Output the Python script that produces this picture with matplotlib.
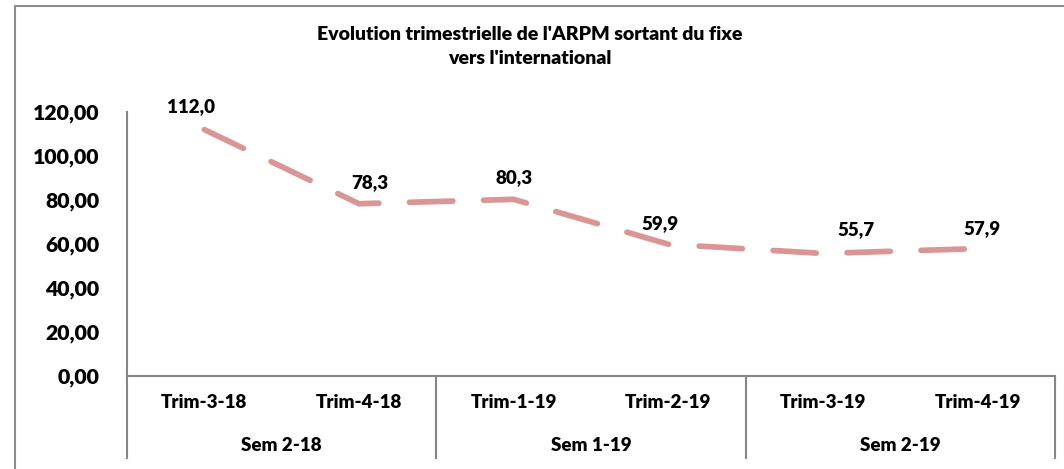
import matplotlib.pyplot as plt
from matplotlib.patches import Rectangle

# Data
trimestres = ['Trim-3-18', 'Trim-4-18', 'Trim-1-19', 'Trim-2-19', 'Trim-3-19', 'Trim-4-19']
semestres = ['Sem 2-18', 'Sem 1-19', 'Sem 2-19']
arpm = [112.0, 78.3, 80.3, 59.9, 55.7, 57.9]
yticks = [0, 20, 40, 60, 80, 100, 120]

# label nudges (pixels), labels were moved by hand in the original
label_dx = [-13, 11, 0, -8, 33, 4]
label_dy = [23, 21, 22, 21, 24, 20]

plt.rcParams['font.family'] = ['Lato', 'DejaVu Sans']
wt = 'heavy'
grey = '#868686'
line_col = '#D99694'

W, H = 1064, 469
fig = plt.figure(figsize=(W / 100, H / 100), dpi=100)
ax = fig.add_axes([127 / W, 1 - 376 / H, 928 / W, 264 / H])

# outer chart border (cut at right and bottom)
fig.patches.append(Rectangle((15 / W, -0.1), 1.2, 1.1 - 6 / H, transform=fig.transFigure,
                             fill=False, edgecolor='#8c8c8c', lw=1.5))

x = list(range(len(arpm)))
ax.plot(x, arpm, color=line_col, lw=4.1, linestyle=(0, (7.6, 5.4)),
        dash_capstyle='round', solid_joinstyle='round')

for i, v in enumerate(arpm):
    ax.annotate(f'{v:.1f}'.replace('.', ','), (i, v), xytext=(label_dx[i], label_dy[i]),
                textcoords='offset pixels', ha='center', va='center', fontsize=13.5,
                fontweight=wt)

ax.set_xlim(-0.5, len(arpm) - 0.5)
ax.set_ylim(0, 120)
ax.set_yticks(yticks)
ax.set_yticklabels([f'{t:.2f}'.replace('.', ',') for t in yticks], fontsize=15.3, fontweight=wt)
ax.tick_params(axis='y', length=0, pad=20)
ax.set_xticks([])

for s in ['top', 'right']:
    ax.spines[s].set_visible(False)
for s in ['left', 'bottom']:
    ax.spines[s].set_color(grey)
    ax.spines[s].set_linewidth(1.5)

# multi-level category axis
tr = ax.get_xaxis_transform()
for i, lab in enumerate(trimestres):
    ax.text(i, -0.102, lab, transform=tr, ha='center', va='center', fontsize=13.5, fontweight=wt)
for g, lab in enumerate(semestres):
    ax.text(2 * g + 0.5, -0.262, lab, transform=tr, ha='center', va='center', fontsize=13.5,
            fontweight=wt)
for b in [-0.5, 1.5, 3.5, 5.5]:
    ax.plot([b, b], [0, -0.31], transform=tr, color=grey, lw=1.5, clip_on=False)

fig.text(530 / W, 1 - 46 / H, "Evolution trimestrielle de l'ARPM sortant du fixe\nvers l'international",
         ha='center', va='center', fontsize=14, fontweight=wt, linespacing=1.5)

fig.savefig('out.png', dpi=100, facecolor='white')
